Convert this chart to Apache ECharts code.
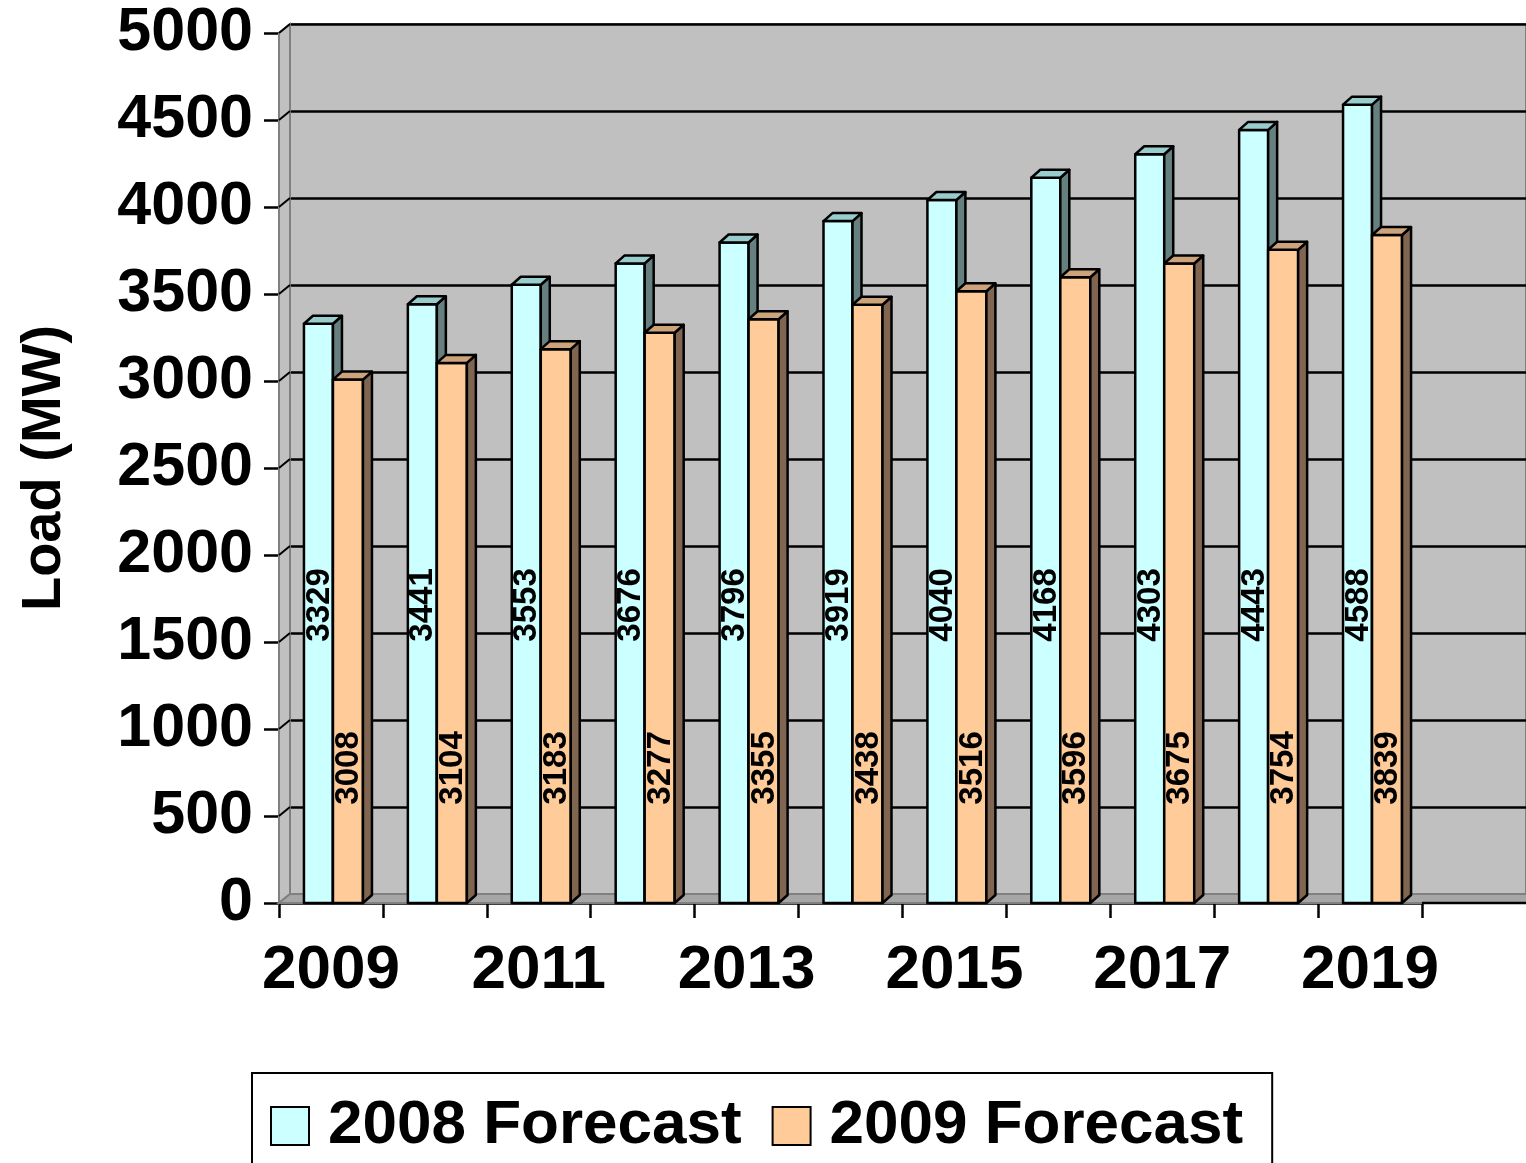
<!DOCTYPE html>
<html>
<head>
<meta charset="utf-8">
<script src="https://cdn.jsdelivr.net/npm/echarts@6/dist/echarts.min.js"></script>
<style>
html,body{margin:0;padding:0;background:#fff;}
#chart{width:1526px;height:1163px;}
</style>
</head>
<body>
<div id="chart"></div>
<script>
const categories = ['2009','2010','2011','2012','2013','2014','2015','2016','2017','2018','2019'];
const forecast2008 = [3329,3441,3553,3676,3796,3919,4040,4168,4303,4443,4588];
const forecast2009 = [3008,3104,3183,3277,3355,3438,3516,3596,3675,3754,3839];
const yTicks = [0,500,1000,1500,2000,2500,3000,3500,4000,4500,5000];
const seriesNames = ['2008 Forecast','2009 Forecast'];

const FONT = '"Liberation Sans", Arial, sans-serif';
const DX = 9, DY = 8;

function barRenderer(offL, w, front, top, side, labelVal) {
  return function (params, api) {
    const i = api.value(0), v = api.value(1);
    const base = api.coord([i, 0]);
    const tp = api.coord([i, v]);
    const x0 = base[0] + offL, x1 = x0 + w;
    const yb = base[1], yt = tp[1];
    const ly = api.coord([i, labelVal])[1];
    const stroke = {stroke: '#000', lineWidth: 2.5, lineJoin: 'round'};
    return {
      type: 'group',
      children: [
        {type: 'polygon', shape: {points: [[x0, yb], [x1, yb], [x1, yt], [x0, yt]]},
          style: Object.assign({fill: front}, stroke)},
        {type: 'polygon', shape: {points: [[x1, yb], [x1, yt], [x1 + DX, yt - DY], [x1 + DX, yb - DY]]},
          style: Object.assign({fill: side}, stroke)},
        {type: 'polygon', shape: {points: [[x0, yt], [x1, yt], [x1 + DX, yt - DY], [x0 + DX, yt - DY]]},
          style: Object.assign({fill: top}, stroke)},
        {type: 'text', x: (x0 + x1) / 2 + 1, y: ly, rotation: Math.PI / 2,
          style: {text: String(v), fontSize: 33, fontWeight: 'bold', fontFamily: FONT, fill: '#000',
            align: 'center', verticalAlign: 'middle'}}
      ]
    };
  };
}

function decorRenderer(params, api) {
  const band = api.size([1, 0])[0];
  const xL = api.coord([0, 0])[0] - band / 2;
  const xLast = api.coord([categories.length - 1, 0])[0] + band / 2;
  const W = api.getWidth();
  const yb = api.coord([0, yTicks[0]])[1];
  const yt = api.coord([0, yTicks[yTicks.length - 1]])[1];
  const children = [];
  children.push({type: 'polygon', shape: {points: [[xL, yb], [xL, yt], [xL + 11, yt - DY - 1], [xL + 11, yb - DY - 1]]},
    style: {fill: '#C0C0C0', stroke: '#808080', lineWidth: 2}});
  children.push({type: 'polygon', shape: {points: [[xL, yb], [W + 5, yb], [W + 5, yb - DY - 1], [xL + 11, yb - DY - 1]]},
    style: {fill: '#A6A6A6', stroke: '#808080', lineWidth: 2}});
  yTicks.forEach(function (t) {
    const y = api.coord([0, t])[1];
    if (t === 0) return;
    children.push({type: 'line', shape: {x1: xL, y1: y, x2: xL + 11, y2: y - DY - 1},
      style: {stroke: '#000', lineWidth: 2}});
  });
  children.push({type: 'line', shape: {x1: xLast, y1: yb, x2: W + 5, y2: yb},
    style: {stroke: '#000', lineWidth: 2.5}});
  return {type: 'group', children: children};
}

const chart = echarts.init(document.getElementById('chart'), null, {renderer: 'canvas'});
chart.setOption({
  animation: false,
  backgroundColor: '#ffffff',
  textStyle: {fontFamily: FONT},
  grid: [
    {left: 279, right: 104, top: 33, bottom: 260, containLabel: false},
    {left: 290, right: -4, top: 24, bottom: 269, show: true, backgroundColor: '#C0C0C0',
      borderColor: '#808080', borderWidth: 2, z: -1}
  ],
  legend: {
    left: 252, top: 1073,
    data: seriesNames,
    icon: 'rect',
    itemWidth: 38, itemHeight: 38, itemGap: 30,
    padding: [22, 29, 40, 18],
    borderColor: '#000', borderWidth: 2,
    itemStyle: {borderColor: '#000', borderWidth: 2},
    textStyle: {fontSize: 62, fontWeight: 'bold', color: '#000', fontFamily: FONT, padding: [0, 0, 0, 14]}
  },
  xAxis: [
    {type: 'category', gridIndex: 0, data: categories,
      axisLine: {show: true, lineStyle: {color: '#000', width: 2.5}},
      axisTick: {show: true, length: 15, interval: 0, lineStyle: {color: '#000', width: 2.5}},
      axisLabel: {interval: 1, fontSize: 62, fontWeight: 'bold', color: '#000', margin: 37, fontFamily: FONT},
      splitLine: {show: false}},
    {type: 'category', gridIndex: 1, data: categories, show: false}
  ],
  yAxis: [
    {type: 'value', gridIndex: 0, min: 0, max: 5000, interval: 500,
      name: 'Load (MW)', nameLocation: 'middle', nameRotate: 90, nameGap: 206,
      nameTextStyle: {fontSize: 56, fontWeight: 'bold', color: '#000', fontFamily: FONT},
      axisLine: {show: true, lineStyle: {color: '#000', width: 2.5}},
      axisTick: {show: true, length: 15, lineStyle: {color: '#000', width: 2.5}},
      axisLabel: {fontSize: 61, fontWeight: 'bold', color: '#000', margin: 26, fontFamily: FONT,
        formatter: function (v) { return String(v); }},
      splitLine: {show: false}},
    {type: 'value', gridIndex: 1, min: 0, max: 5000, interval: 500,
      axisLine: {show: false}, axisTick: {show: false}, axisLabel: {show: false},
      splitLine: {show: true, lineStyle: {color: '#000', width: 2.5}}}
  ],
  series: [
    {type: 'custom', name: 'decor', xAxisIndex: 0, yAxisIndex: 0, data: [[0, 0]],
      renderItem: decorRenderer, silent: true, z: 1},
    {type: 'custom', name: seriesNames[0], xAxisIndex: 0, yAxisIndex: 0, z: 3,
      itemStyle: {color: '#CCFFFF'},
      data: forecast2008.map(function (v, i) { return [i, v]; }),
      renderItem: barRenderer(-27, 29, '#CCFFFF', '#99CCCC', '#668080', 1713)},
    {type: 'custom', name: seriesNames[1], xAxisIndex: 0, yAxisIndex: 0, z: 4,
      itemStyle: {color: '#FFCC99'},
      data: forecast2009.map(function (v, i) { return [i, v]; }),
      renderItem: barRenderer(2, 30, '#FFCC99', '#CCA37A', '#806650', 776)}
  ]
});
</script>
</body>
</html>
